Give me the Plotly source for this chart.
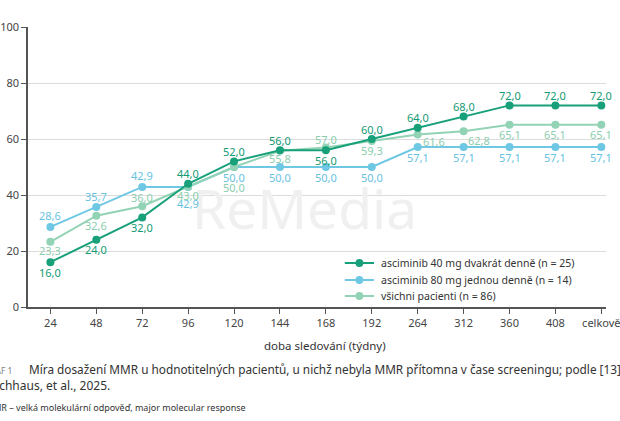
import plotly.graph_objects as go

# ---------------- data ----------------
weeks = ["24", "48", "72", "96", "120", "144", "168", "192", "264", "312", "360", "408", "celkově"]
bid40 = [16.0, 24.0, 32.0, 44.0, 52.0, 56.0, 56.0, 60.0, 64.0, 68.0, 72.0, 72.0, 72.0]
qd80 = [28.6, 35.7, 42.9, 42.9, 50.0, 50.0, 50.0, 50.0, 57.1, 57.1, 57.1, 57.1, 57.1]
allp = [23.3, 32.6, 36.0, 43.0, 50.0, 55.8, 57.0, 59.3, 61.6, 62.8, 65.1, 65.1, 65.1]
y_ticks = [0, 20, 40, 60, 80, 100]
names = [
    "asciminib 40 mg dvakrát denně (n = 25)",
    "asciminib 80 mg jednou denně (n = 14)",
    "všichni pacienti (n = 86)",
]

# ---------------- styles ----------------
FONT = "Noto Sans"
C_BID = "#17a07a"
C_QD = "#6ec8e4"
C_ALL = "#93d3b5"
T_BID = "#139a74"
T_QD = "#67c2df"
T_ALL = "#8ccdae"

# label offsets (dx, dy) in px; dy positive = downwards
off_bid = [(0, 10)] * 3 + [(0, -10)] * 3 + [(0, 10)] + [(0, -10)] * 6
off_qd = [(0, -11)] * 3 + [(0, 17)] + [(0, 10)] * 9
off_all = [(0, 9), (0, 10), (0, -9), (0, 9), (0, 20), (0, 8), (0, -8), (0, 10),
           (16, 7), (15, 9), (0, 10), (0, 10), (0, 10)]

W, H = 620, 421
L, R, T, B = 27, 0, 27, 114
PW, PH = W - L - R, H - T - B


def px(x):
    return (x - L) / PW


def py(y):
    return (H - B - y) / PH


def fmt(v):
    return f"{v:.1f}".replace(".", ",")


fig = go.Figure()

series = [
    (qd80, C_QD, T_QD, off_qd, names[1]),
    (allp, C_ALL, T_ALL, off_all, names[2]),
    (bid40, C_BID, T_BID, off_bid, names[0]),
]

annotations = []

# watermark (first, so it sits beneath the other annotations)
annotations.append(dict(
    x=px(311), y=py(208), xref="paper", yref="paper", text="ReMedia",
    showarrow=False, font=dict(family=FONT, size=55, color="#f0f0f0"),
))

for vals, col, tcol, offs, nm in series:
    fig.add_trace(go.Scatter(
        x=weeks, y=vals, mode="lines+markers", name=nm,
        line=dict(color=col, width=2),
        marker=dict(color=col, size=8),
        cliponaxis=False, showlegend=False,
    ))
    for i, (yv, (dx, dy)) in enumerate(zip(vals, offs)):
        annotations.append(dict(
            x=i, y=yv, xref="x", yref="y", text=fmt(yv), showarrow=False,
            xshift=dx, yshift=-dy, font=dict(family=FONT, size=11, color=tcol),
        ))

# manual legend
legend_rows = [(263, C_BID, names[0]), (280, C_QD, names[1]), (296, C_ALL, names[2])]
shapes = []
for yy, col, nm in legend_rows:
    shapes.append(dict(type="line", xref="paper", yref="paper",
                       x0=px(352), x1=px(382), y0=py(yy), y1=py(yy),
                       line=dict(color=col, width=2)))
    shapes.append(dict(type="circle", xref="paper", yref="paper",
                       x0=px(363), x1=px(371), y0=py(yy + 4), y1=py(yy - 4),
                       fillcolor=col, line=dict(color=col, width=0)))
    annotations.append(dict(
        x=px(387), y=py(yy), xref="paper", yref="paper", text=nm,
        xanchor="left", yanchor="middle", showarrow=False,
        font=dict(family=FONT, size=10.5, color="#333333"),
    ))

# axis title
annotations.append(dict(
    x=px(332), y=py(345), xref="paper", yref="paper", text="doba sledování (týdny)",
    showarrow=False, yanchor="middle",
    font=dict(family=FONT, size=11.5, color="#333333"),
))

# caption
annotations.append(dict(
    x=px(13), y=py(370), xref="paper", yref="paper", text="GRAF 1",
    xanchor="right", yanchor="middle", showarrow=False,
    font=dict(family=FONT, size=8.5, color="#808080"),
))
annotations.append(dict(
    x=px(26), y=py(369), xref="paper", yref="paper",
    text="Míra dosažení MMR u hodnotitelných pacientů, u nichž nebyla MMR přítomna v čase screeningu; podle [13]",
    xanchor="left", yanchor="middle", showarrow=False,
    font=dict(family=FONT, size=11.8, color="#333333"),
))
annotations.append(dict(
    x=px(-21), y=py(386), xref="paper", yref="paper",
    text="Hochhaus, et al., 2025.",
    xanchor="left", yanchor="middle", showarrow=False,
    font=dict(family=FONT, size=12, color="#333333"),
))
annotations.append(dict(
    x=px(-19), y=py(407), xref="paper", yref="paper",
    text="MMR – velká molekulární odpověď, major molecular response",
    xanchor="left", yanchor="middle", showarrow=False,
    font=dict(family=FONT, size=9, color="#333333"),
))

fig.update_layout(
    width=W, height=H,
    margin=dict(l=L, r=R, t=T, b=B, pad=0),
    paper_bgcolor="white", plot_bgcolor="white",
    font=dict(family=FONT, size=11, color="#444444"),
    annotations=annotations, shapes=shapes,
    xaxis=dict(
        type="category", categoryorder="array", categoryarray=weeks,
        range=[-0.488, 12.102],
        showline=True, linecolor="#555555", linewidth=1.5,
        ticks="outside", ticklen=5, tickcolor="#555555", tickwidth=1,
        showgrid=False, zeroline=False,
        tickfont=dict(family=FONT, size=11, color="#444444"),
    ),
    yaxis=dict(
        range=[0, 100], tickvals=y_ticks,
        showline=True, linecolor="#555555", linewidth=1.5,
        ticks="outside", ticklen=5, tickcolor="#555555", tickwidth=1,
        showgrid=True, gridcolor="#dcdcdc", gridwidth=1, zeroline=False,
        tickfont=dict(family=FONT, size=11, color="#444444"),
    ),
)

fig.write_html("out.html")
